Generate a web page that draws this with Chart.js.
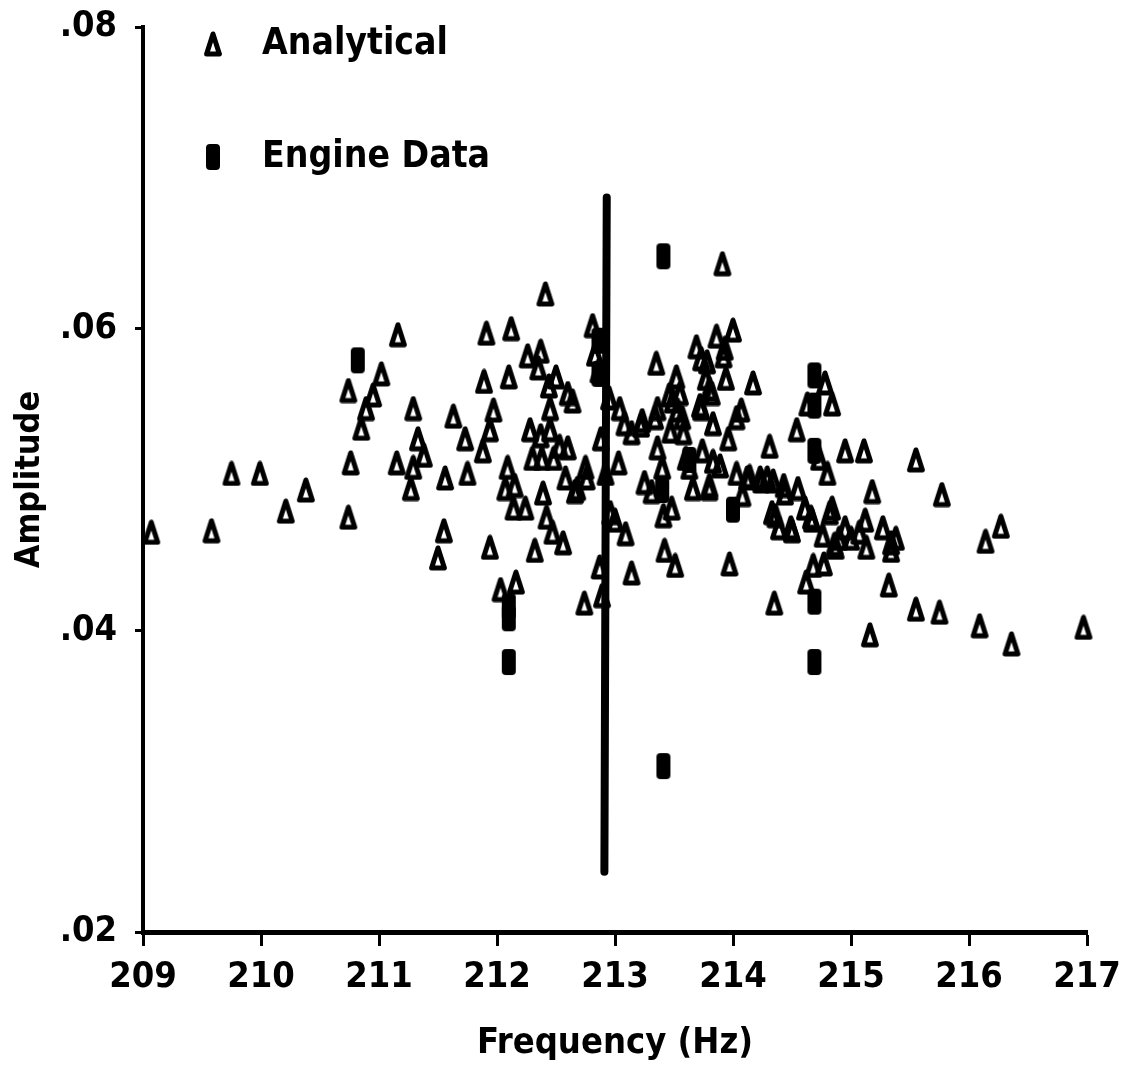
<!DOCTYPE html>
<html>
<head>
<meta charset="utf-8">
<title>Amplitude vs Frequency</title>
<script src="https://cdn.jsdelivr.net/npm/chart.js@4/dist/chart.umd.min.js"></script>
<style>
  html, body { margin: 0; padding: 0; background: #fff; }
  #wrap { width: 1123px; height: 1068px; }
</style>
</head>
<body>
<div id="wrap"><canvas id="c" width="1123" height="1068"></canvas></div>
<script>
// Analytical predictions (frequency in Hz, amplitude)
const freqAnalytical = [
  209.07, 209.58, 209.75, 209.99, 210.21, 210.38, 210.74, 210.76, 210.74, 210.85,
  210.89, 210.95, 211.02, 211.16, 211.15, 211.29, 211.29, 211.27, 211.33, 211.38,
  211.50, 211.55, 211.56, 211.63, 211.73, 211.75, 211.88, 211.89, 211.91, 211.94,
  211.97, 211.94, 212.03, 212.07, 212.09, 212.12, 212.10, 212.14, 212.16, 212.24,
  212.26, 212.28, 212.30, 212.32, 212.35, 212.37, 212.39, 212.37, 212.41, 212.42,
  212.44, 212.45, 212.48, 212.47, 212.50, 212.53, 212.56, 212.58, 212.60, 212.64,
  212.68, 212.74, 212.75, 212.81, 212.83, 212.86, 212.88, 212.87, 212.89, 212.92,
  212.95, 212.96, 213.00, 213.03, 213.04, 213.09, 213.14, 213.14, 213.08, 213.22,
  213.25, 213.31, 213.35, 213.36, 213.36, 213.41, 213.42, 213.46, 213.48, 213.51,
  213.52, 213.53, 213.55, 213.58, 213.60, 213.63, 213.66, 213.69, 213.73, 213.73,
  213.77, 213.80, 213.82, 213.86, 213.89, 213.91, 213.92, 213.94, 213.96, 213.97,
  214.00, 214.03, 214.07, 214.08, 214.14, 214.17, 214.23, 214.29, 214.31, 214.35,
  214.34, 214.36, 214.39, 214.43, 214.49, 214.54, 214.55, 214.61, 214.62, 214.63,
  214.66, 214.68, 214.73, 214.77, 214.76, 214.78, 214.80, 214.84, 214.84, 214.87,
  214.90, 214.95, 214.95, 215.00, 215.07, 215.11, 215.12, 215.13, 215.16, 215.18,
  215.27, 215.32, 215.34, 215.38, 215.55, 215.55, 215.75, 215.77, 216.09, 216.14,
  216.27, 216.36, 216.97,
  212.45, 212.60, 212.38, 212.15, 212.66, 212.76, 213.23, 213.34, 213.49, 213.47,
  213.57, 213.40, 213.78, 213.93, 213.80, 213.72, 213.83, 214.03, 213.74, 213.83,
  213.80, 214.12, 214.24, 214.44, 214.33, 214.50, 214.67, 214.82, 215.34, 214.86
];
const ampAnalytical = [
  0.0465, 0.0466, 0.0504, 0.0504, 0.0479, 0.0493, 0.0475, 0.0511, 0.0559, 0.0534,
  0.0547, 0.0556, 0.0570, 0.0596, 0.0511, 0.0547, 0.0508, 0.0494, 0.0527, 0.0516,
  0.0448, 0.0466, 0.0501, 0.0542, 0.0527, 0.0504, 0.0519, 0.0565, 0.0597, 0.0455,
  0.0546, 0.0533, 0.0427, 0.0494, 0.0508, 0.0600, 0.0568, 0.0481, 0.0432, 0.0481,
  0.0582, 0.0533, 0.0514, 0.0453, 0.0574, 0.0529, 0.0491, 0.0585, 0.0623, 0.0475,
  0.0562, 0.0547, 0.0514, 0.0465, 0.0568, 0.0522, 0.0458, 0.0501, 0.0557, 0.0552,
  0.0494, 0.0418, 0.0508, 0.0602, 0.0583, 0.0572, 0.0527, 0.0442, 0.0423, 0.0504,
  0.0554, 0.0478, 0.0473, 0.0511, 0.0547, 0.0464, 0.0438, 0.0531, 0.0537, 0.0536,
  0.0498, 0.0492, 0.0577, 0.0521, 0.0547, 0.0476, 0.0453, 0.0556, 0.0481, 0.0443,
  0.0568, 0.0546, 0.0557, 0.0531, 0.0514, 0.0508, 0.0494, 0.0588, 0.0580, 0.0547,
  0.0567, 0.0494, 0.0557, 0.0595, 0.0509, 0.0643, 0.0582, 0.0567, 0.0527, 0.0444,
  0.0599, 0.0504, 0.0546, 0.0490, 0.0502, 0.0564, 0.0501, 0.0501, 0.0522, 0.0418,
  0.0499, 0.0476, 0.0468, 0.0496, 0.0468, 0.0533, 0.0494, 0.0481, 0.0432, 0.0550,
  0.0475, 0.0443, 0.0514, 0.0444, 0.0463, 0.0564, 0.0504, 0.0550, 0.0481, 0.0455,
  0.0461, 0.0468, 0.0519, 0.0461, 0.0465, 0.0519, 0.0473, 0.0455, 0.0397, 0.0492,
  0.0468, 0.0430, 0.0458, 0.0461, 0.0414, 0.0513, 0.0412, 0.0490, 0.0403, 0.0459,
  0.0469, 0.0391, 0.0402,
  0.0533, 0.0521, 0.0514, 0.0496, 0.0492, 0.0501, 0.0539, 0.0541, 0.0552, 0.0532,
  0.0541, 0.0508, 0.0578, 0.0587, 0.0560, 0.0549, 0.0537, 0.0541, 0.0519, 0.0512,
  0.0496, 0.0501, 0.0499, 0.0491, 0.0478, 0.0466, 0.0473, 0.0478, 0.0453, 0.0457
];

// Measured engine data
const freqEngine = [
  210.82, 212.10, 212.10, 212.10, 212.86, 212.86, 213.41, 213.41, 213.40, 213.63,
  214.00, 214.69, 214.69, 214.69, 214.69, 214.69
];
const ampEngine = [
  0.0579, 0.0416, 0.0408, 0.0379, 0.0592, 0.0570, 0.0648, 0.0310, 0.0493, 0.0513,
  0.0480, 0.0569, 0.0549, 0.0519, 0.0419, 0.0379
];

// Vertical marker bar near 213 Hz
const barFreq = [212.93, 212.91];
const barAmp = [0.0687, 0.0240];

// Axis tick labels
const xTickLabels = ['209', '210', '211', '212', '213', '214', '215', '216', '217'];
const yTickLabels = ['.02', '.04', '.06', '.08'];

const FONT = "'Liberation Sans Narrow', 'DejaVu Sans Condensed', 'Arial Narrow', sans-serif";

// Open triangle marker
function makeTriangle() {
  const c = document.createElement('canvas');
  c.width = 20; c.height = 26;
  const g = c.getContext('2d');
  g.beginPath();
  g.moveTo(10, 3);
  g.lineTo(16.4, 23);
  g.lineTo(3.6, 23);
  g.closePath();
  g.lineWidth = 5;
  g.lineJoin = 'round';
  g.strokeStyle = '#000';
  g.stroke();
  return c;
}

// Solid rounded block marker
function makeBlock() {
  const c = document.createElement('canvas');
  c.width = 16; c.height = 28;
  const g = c.getContext('2d');
  g.fillStyle = '#000';
  g.beginPath();
  g.roundRect(1, 1, 14, 26, 4);
  g.fill();
  return c;
}

const triImg = makeTriangle();
const blockImg = makeBlock();

function pts(xs, ys) { return xs.map((x, i) => ({ x: x, y: ys[i] })); }

// In-plot legend drawn in the upper-left corner
const cornerLegend = {
  id: 'cornerLegend',
  afterDraw(chart) {
    const ctx = chart.ctx;
    const items = [
      { img: triImg, text: chart.data.datasets[0].label, y: 44 },
      { img: blockImg, text: chart.data.datasets[1].label, y: 157 }
    ];
    ctx.save();
    ctx.fillStyle = '#000';
    ctx.font = "bold 37px " + FONT;
    ctx.textBaseline = 'middle';
    ctx.textAlign = 'left';
    items.forEach(it => {
      ctx.drawImage(it.img, 213 - it.img.width / 2, it.y - it.img.height / 2);
      ctx.fillText(it.text, 262, it.y);
    });
    ctx.restore();
  }
};

new Chart(document.getElementById('c'), {
  type: 'scatter',
  data: {
    datasets: [
      {
        label: 'Analytical',
        data: pts(freqAnalytical, ampAnalytical),
        pointStyle: triImg,
        pointRadius: 6,
        clip: false,
        order: 2
      },
      {
        label: 'Engine Data',
        data: pts(freqEngine, ampEngine),
        pointStyle: blockImg,
        pointRadius: 6,
        clip: false,
        order: 1
      },
      {
        type: 'line',
        label: 'bar',
        data: pts(barFreq, barAmp),
        borderColor: '#000',
        borderWidth: 8,
        borderCapStyle: 'round',
        pointRadius: 0,
        showLine: true,
        fill: false,
        clip: false,
        order: 0
      }
    ]
  },
  options: {
    responsive: false,
    devicePixelRatio: 1,
    animation: false,
    events: [],
    layout: { padding: { left: 0, top: 27, right: 36, bottom: 0 } },
    plugins: {
      legend: { display: false },
      tooltip: { enabled: false }
    },
    scales: {
      x: {
        type: 'linear',
        min: 209,
        max: 217,
        border: { display: true, color: '#000', width: 5 },
        grid: {
          drawOnChartArea: false,
          drawTicks: true,
          tickLength: 14,
          tickColor: '#000',
          tickWidth: 3
        },
        ticks: {
          stepSize: 1,
          color: '#000',
          padding: 10,
          maxRotation: 0,
          autoSkip: false,
          font: { family: FONT, size: 36, weight: 'bold' },
          callback: (v, i) => xTickLabels[i]
        },
        title: {
          display: true,
          text: 'Frequency (Hz)',
          color: '#000',
          font: { family: FONT, size: 36, weight: 'bold' },
          padding: { top: 0, bottom: 3 }
        },
        afterFit: s => {
          s.height = 136;
          s.paddingLeft = 0;
          s.paddingRight = 0;
        }
      },
      y: {
        type: 'linear',
        min: 0.02,
        max: 0.08,
        border: { display: true, color: '#000', width: 4 },
        grid: {
          drawOnChartArea: false,
          drawTicks: true,
          tickLength: 8,
          tickColor: '#000',
          tickWidth: 3
        },
        ticks: {
          stepSize: 0.02,
          color: '#000',
          padding: 18,
          autoSkip: false,
          font: { family: FONT, size: 36, weight: 'bold' },
          callback: (v, i) => yTickLabels[i]
        },
        title: {
          display: true,
          text: 'Amplitude',
          color: '#000',
          font: { family: FONT, size: 34, weight: 'bold' },
          padding: { top: 10, bottom: 0 }
        },
        afterFit: s => {
          s.width = 143;
          s.paddingTop = 0;
          s.paddingBottom = 0;
        }
      }
    }
  },
  plugins: [cornerLegend]
});
</script>
</body>
</html>
